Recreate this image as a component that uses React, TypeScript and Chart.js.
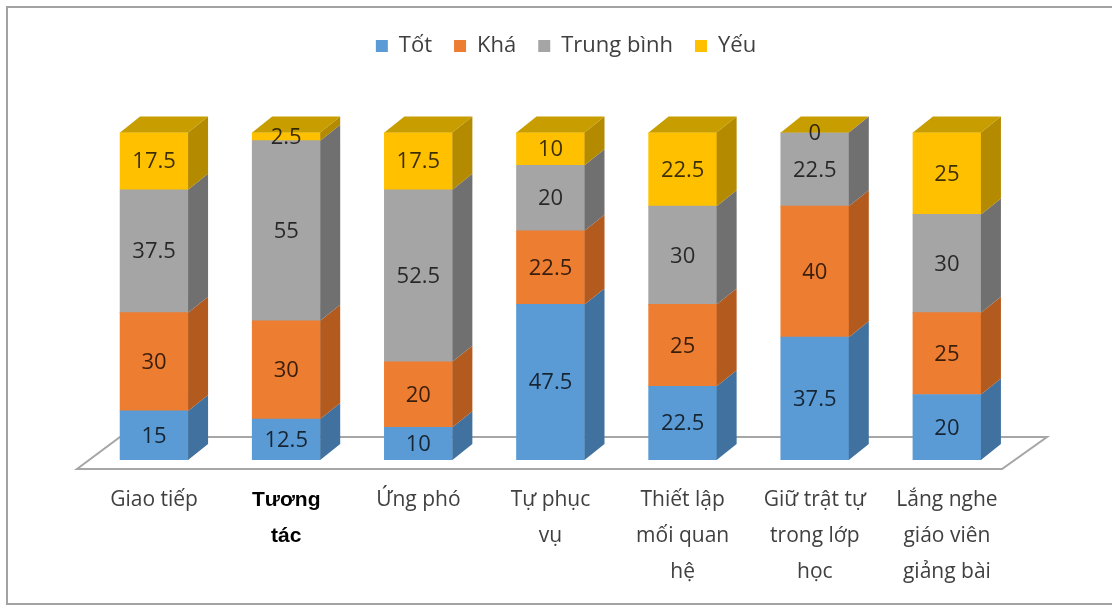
import React, { useEffect, useRef } from "react";
import { Chart, registerables } from "chart.js";

Chart.register(...registerables);

// Skill areas (multi-line tick labels)
const categories: (string | string[])[] = [
  "Giao tiếp",
  ["Tương", "tác"],
  "Ứng phó",
  ["Tự phục", "vụ"],
  ["Thiết lập", "mối quan", "hệ"],
  ["Giữ trật tự", "trong lớp", "học"],
  ["Lắng nghe", "giáo viên", "giảng bài"],
];

const seriesNames = ["Tốt", "Khá", "Trung bình", "Yếu"];

const totValues = [15, 12.5, 10, 47.5, 22.5, 37.5, 20];
const khaValues = [30, 30, 20, 22.5, 25, 40, 25];
const trungBinhValues = [37.5, 55, 52.5, 20, 30, 22.5, 30];
const yeuValues = [17.5, 2.5, 17.5, 10, 22.5, 0, 25];

const frontColors = ["#5b9bd5", "#ed7d31", "#a5a5a5", "#ffc000"];
const sideColors = ["#41729f", "#b35a1f", "#707070", "#b38a00"];
const topColor = "#c79d00";

// depth of the extruded columns
const DEPTH_X = 20;
const DEPTH_Y = 16;

const FONT = "'Open Sans', 'DejaVu Sans', sans-serif";

const frame3d = {
  id: "frame3d",
  beforeDraw(chart: any) {
    const { ctx } = chart;
    ctx.save();
    ctx.fillStyle = "#ffffff";
    ctx.fillRect(0, 0, chart.width, chart.height);
    ctx.strokeStyle = "#a3a3a3";
    ctx.lineWidth = 2;
    ctx.beginPath();
    ctx.moveTo(chart.width, 7);
    ctx.lineTo(7, 7);
    ctx.lineTo(7, 604);
    ctx.lineTo(chart.width, 604);
    ctx.stroke();
    ctx.restore();
  },
  beforeDatasetsDraw(chart: any) {
    // floor of the 3D plot
    const { ctx, chartArea: a } = chart;
    const fy = a.bottom + 9;
    const by = a.bottom - 23;
    ctx.save();
    ctx.beginPath();
    ctx.moveTo(a.left - 11, fy);
    ctx.lineTo(a.right - 11, fy);
    ctx.lineTo(a.right + 34, by);
    ctx.lineTo(a.left + 32, by);
    ctx.closePath();
    ctx.fillStyle = "#ffffff";
    ctx.fill();
    ctx.strokeStyle = "#a6a6a6";
    ctx.lineWidth = 2;
    ctx.stroke();
    ctx.restore();
  },
  afterDatasetsDraw(chart: any) {
    const { ctx } = chart;
    const n = chart.data.datasets.length;
    ctx.save();
    for (let d = 0; d < n; d++) {
      const meta = chart.getDatasetMeta(d);
      meta.data.forEach((bar: any) => {
        const { x, y, base, width } = bar.getProps(["x", "y", "base", "width"], true);
        const r = x + width / 2;
        const l = x - width / 2;
        const top = Math.min(y, base);
        const bot = Math.max(y, base);
        // right side face
        ctx.beginPath();
        ctx.moveTo(r, top);
        ctx.lineTo(r + DEPTH_X, top - DEPTH_Y);
        ctx.lineTo(r + DEPTH_X, bot - DEPTH_Y);
        ctx.lineTo(r, bot);
        ctx.closePath();
        ctx.fillStyle = sideColors[d];
        ctx.fill();
        // lid on the highest segment
        if (d === n - 1) {
          ctx.beginPath();
          ctx.moveTo(l, top);
          ctx.lineTo(l + DEPTH_X, top - DEPTH_Y);
          ctx.lineTo(r + DEPTH_X, top - DEPTH_Y);
          ctx.lineTo(r, top);
          ctx.closePath();
          ctx.fillStyle = topColor;
          ctx.fill();
        }
      });
    }
    // value labels on the front faces
    ctx.font = `22px ${FONT}`;
    ctx.textAlign = "center";
    ctx.textBaseline = "middle";
    ctx.fillStyle = "rgba(0,0,0,0.76)";
    for (let d = 0; d < n; d++) {
      const meta = chart.getDatasetMeta(d);
      const values = chart.data.datasets[d].data;
      meta.data.forEach((bar: any, i: number) => {
        const { x, y, base } = bar.getProps(["x", "y", "base"], true);
        ctx.fillText(String(values[i]), x, (y + base) / 2 + 1);
      });
    }
    ctx.restore();
  },
};

export default function App() {
  const canvasRef = useRef<HTMLCanvasElement | null>(null);

  useEffect(() => {
    const canvas = canvasRef.current;
    if (!canvas) return;
    const seriesValues = [totValues, khaValues, trungBinhValues, yeuValues];
    const chart = new Chart(canvas, {
      type: "bar",
      data: {
        labels: categories as any,
        datasets: seriesNames.map((name, i) => ({
          label: name,
          data: seriesValues[i],
          backgroundColor: frontColors[i],
          borderWidth: 0,
          barThickness: 68,
        })),
      },
      options: {
        responsive: false,
        animation: false,
        devicePixelRatio: 1,
        layout: { padding: { top: 13, left: 88, right: 68, bottom: 0 } },
        plugins: {
          legend: {
            position: "top",
            labels: {
              boxWidth: 12,
              boxHeight: 12,
              padding: 22,
              color: "#404040",
              font: { family: FONT, size: 22 },
            },
          },
          tooltip: { enabled: false },
        },
        scales: {
          x: {
            stacked: true,
            offset: true,
            grid: { display: false, drawTicks: false },
            border: { display: false },
            ticks: {
              autoSkip: false,
              maxRotation: 0,
              minRotation: 0,
              padding: 22,
              color: (c: any) => (c.index === 1 ? "#000000" : "#404040"),
              font: (c: any) =>
                c.index === 1
                  ? { family: "'Liberation Sans', Arial, sans-serif", size: 21, weight: "bold", lineHeight: 36 / 21 }
                  : { family: FONT, size: 21, lineHeight: 36 / 21 },
            },
            afterFit: (s: any) => {
              s.height = 147;
            },
          },
          y: {
            stacked: true,
            display: false,
            min: 0,
            max: 120,
          },
          y2: {
            position: "right",
            display: true,
            grid: { display: false },
            border: { display: false },
            ticks: { display: false },
            afterFit: (s: any) => {
              s.width = 31;
            },
          },
        },
      },
      plugins: [frame3d],
    } as any);
    return () => chart.destroy();
  }, []);

  return (
    <div style={{ position: "absolute", left: 0, top: 0, width: 1112, height: 607, background: "#fff" }}>
      <canvas ref={canvasRef} width={1112} height={607} />
    </div>
  );
}
